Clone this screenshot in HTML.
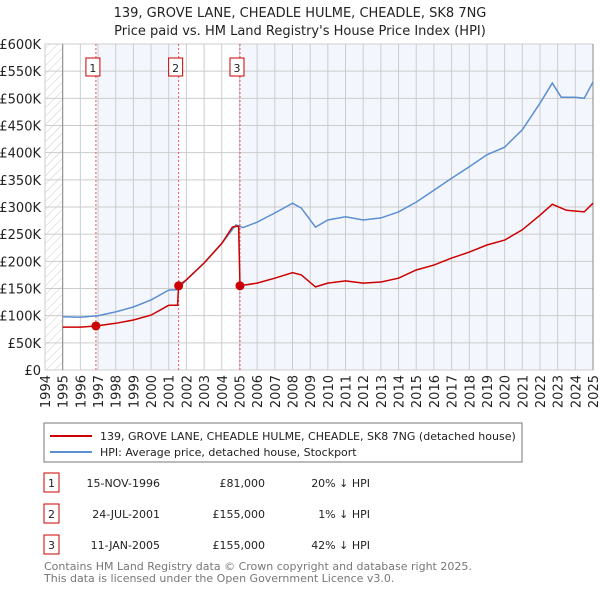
<!DOCTYPE html>
<html><head><meta charset="utf-8"><style>
body{margin:0;background:#fff;font-family:"DejaVu Sans","Liberation Sans",sans-serif;}
svg text{font-family:"DejaVu Sans","Liberation Sans",sans-serif;}
</style></head><body>
<svg id="chart" width="600" height="590" xmlns="http://www.w3.org/2000/svg">
<defs><pattern id="hatch" width="6" height="6" patternUnits="userSpaceOnUse" patternTransform="rotate(45)"><line x1="0" y1="0" x2="0" y2="6" stroke="#ccc" stroke-width="1"/></pattern></defs>
<text x="300" y="17" text-anchor="middle" font-size="13" fill="#222">139, GROVE LANE, CHEADLE HULME, CHEADLE, SK8 7NG</text>
<text x="300" y="35" text-anchor="middle" font-size="13" fill="#222">Price paid vs. HM Land Registry's House Price Index (HPI)</text>
<g id="plot"></g>
<g>
<rect x="44" y="423" width="478" height="39" fill="#fff" stroke="#777"/>
<line x1="50" y1="436" x2="92" y2="436" stroke="#cc0000" stroke-width="2"/>
<text x="100" y="440" font-size="11" fill="#222">139, GROVE LANE, CHEADLE HULME, CHEADLE, SK8 7NG (detached house)</text>
<line x1="50" y1="452" x2="92" y2="452" stroke="#5b8fd0" stroke-width="2"/>
<text x="100" y="456" font-size="11" fill="#222">HPI: Average price, detached house, Stockport</text>
</g>
<g font-size="11" fill="#222">
<rect x="44" y="473" width="15" height="19" fill="#fff" stroke="#cc0000"/><text x="51.5" y="487" text-anchor="middle">1</text>
<text x="160" y="487" text-anchor="end">15-NOV-1996</text><text x="265" y="487" text-anchor="end">£81,000</text><text x="370" y="487" text-anchor="end">20% ↓ HPI</text>
<rect x="44" y="504" width="15" height="19" fill="#fff" stroke="#cc0000"/><text x="51.5" y="518" text-anchor="middle">2</text>
<text x="160" y="518" text-anchor="end">24-JUL-2001</text><text x="265" y="518" text-anchor="end">£155,000</text><text x="370" y="518" text-anchor="end">1% ↓ HPI</text>
<rect x="44" y="535" width="15" height="19" fill="#fff" stroke="#cc0000"/><text x="51.5" y="549" text-anchor="middle">3</text>
<text x="160" y="549" text-anchor="end">11-JAN-2005</text><text x="265" y="549" text-anchor="end">£155,000</text><text x="370" y="549" text-anchor="end">42% ↓ HPI</text>
</g>
<text x="44" y="570" font-size="11" fill="#777">Contains HM Land Registry data © Crown copyright and database right 2025.</text>
<text x="44" y="582" font-size="11" fill="#777">This data is licensed under the Open Government Licence v3.0.</text>
</svg>
<script>
const hpiYears=[1995,1996,1997,1998,1999,2000,2001,2001.5,2002,2003,2004,2004.8,2005.2,2006,2007,2008,2008.5,2009.3,2010,2011,2012,2013,2014,2015,2016,2017,2018,2019,2020,2021,2022,2022.7,2023.2,2024,2024.5,2025];
const hpiValues=[98,97,100,107,116,129,147,148,166,197,233,267,262,272,289,307,298,263,276,282,276,280,291,309,331,353,374,396,410,442,491,528,502,502,500,530];
const ppYears=[1995,1996,1996.88,1998,1999,2000,2001,2001.5,2001.56,2002,2003,2004,2004.6,2004.95,2005.03,2006,2007,2008,2008.5,2009.3,2010,2011,2012,2013,2014,2015,2016,2017,2018,2019,2020,2021,2022,2022.7,2023.5,2024.5,2025];
const ppValues=[79,79,81,86,92,101,119,119,155,166,197,233,263,265,155,160,169,179,175,153,160,164,160,162,169,184,193,206,217,230,239,258,285,305,294,291,307];
const saleYears=[1996.88,2001.56,2005.03];
const saleValues=[81,155,155];
const saleLabels=["1","2","3"];
const yTicks=[0,50,100,150,200,250,300,350,400,450,500,550,600];
const yTickLabels=["£0","£50K","£100K","£150K","£200K","£250K","£300K","£350K","£400K","£450K","£500K","£550K","£600K"];
const xTicks=[1994,1995,1996,1997,1998,1999,2000,2001,2002,2003,2004,2005,2006,2007,2008,2009,2010,2011,2012,2013,2014,2015,2016,2017,2018,2019,2020,2021,2022,2023,2024,2025];
const X0=45,X1=593,Y0=370,Y1=44;
const x=t=>X0+(t-1994)/(2025-1994)*(X1-X0);
const y=v=>Y0-v/600*(Y0-Y1);
const NS="http://www.w3.org/2000/svg";
const g=document.getElementById('plot');
function mk(tag,attrs,parent){const e=document.createElementNS(NS,tag);for(const k in attrs)e.setAttribute(k,attrs[k]);(parent||g).appendChild(e);return e;}
let e;
e=mk('rect',{x:X0,y:Y1,width:x(1995)-X0,height:Y0-Y1,fill:'url(#hatch)'});


e=mk('rect',{x:x(saleYears[0]),y:Y1,width:x(saleYears[1])-x(saleYears[0]),height:Y0-Y1,fill:'#eef3fc',opacity:0.7});


e=mk('rect',{x:x(saleYears[2]),y:Y1,width:X1-x(saleYears[2]),height:Y0-Y1,fill:'#eef3fc',opacity:0.7});


yTicks.forEach((v,i)=>{
 e=mk('line',{x1:X0,x2:X1,y1:y(v),y2:y(v),stroke:'#ccc'});
 
 
 e=mk('text',{x:41,y:y(v)+5,'text-anchor':'end','font-size':13,fill:'#222'});e.textContent=yTickLabels[i];
 
 
});
xTicks.forEach(t=>{
 e=mk('line',{x1:x(t),x2:x(t),y1:Y1,y2:Y0,stroke:'#ccc'});
 
 
 e=mk('text',{x:0,y:0,'font-size':13,fill:'#222','text-anchor':'end',transform:`translate(${x(t)+5},${Y0+5}) rotate(-90)`});e.textContent=t;
 
 
});
e=mk('line',{x1:x(1995),x2:x(1995),y1:Y1,y2:Y0,stroke:'#888'});


e=mk('line',{x1:X1,x2:X1,y1:Y1,y2:Y0,stroke:'#888'});


saleYears.forEach((t,i)=>{
 e=mk('line',{x1:x(t),x2:x(t),y1:Y1,y2:Y0,stroke:'#e55','stroke-dasharray':'2,2'});
 
 
 e=mk('rect',{x:x(t)-10,y:58,width:14,height:18,fill:'#fff',stroke:'#cc0000'});
 
 
 e=mk('text',{x:x(t)-3,y:72,'text-anchor':'middle','font-size':11,fill:'#222'});e.textContent=saleLabels[i];
 
 
});
e=mk('path',{d:hpiYears.map((t,i)=>(i?'L':'M')+x(t).toFixed(1)+','+y(hpiValues[i]).toFixed(1)).join(''),fill:'none',stroke:'#5b8fd0','stroke-width':1.5});


e=mk('path',{d:ppYears.map((t,i)=>(i?'L':'M')+x(t).toFixed(1)+','+y(ppValues[i]).toFixed(1)).join(''),fill:'none',stroke:'#cc0000','stroke-width':1.5});


saleYears.forEach((t,i)=>{
 e=mk('circle',{cx:x(t),cy:y(saleValues[i]),r:4.5,fill:'#cc0000'});
 
 
});
</script>
</body></html>
